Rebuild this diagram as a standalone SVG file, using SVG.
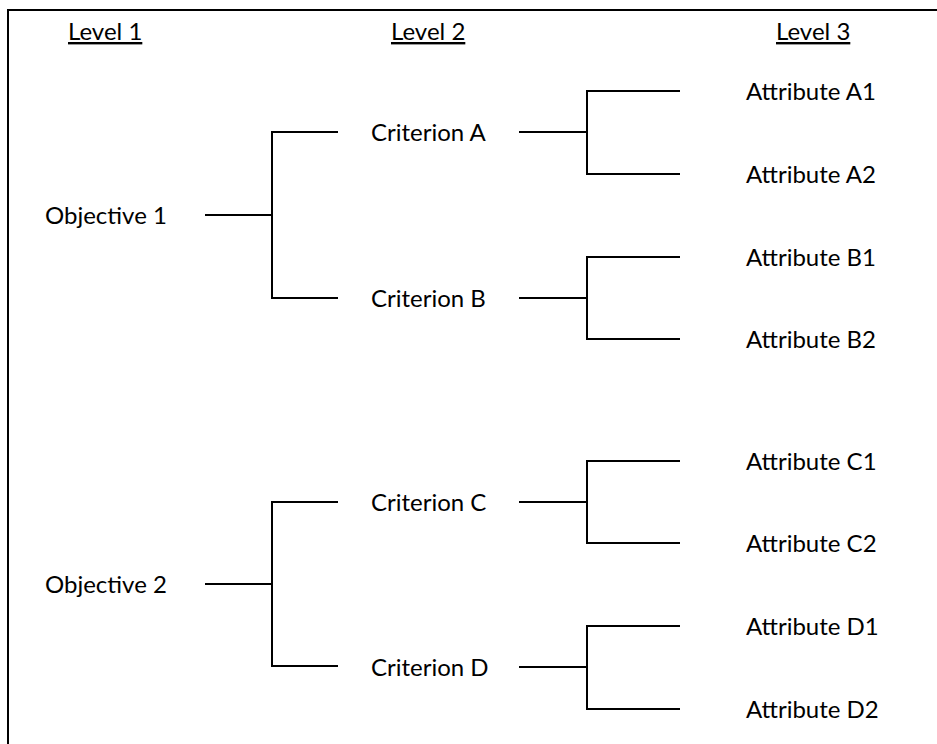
<svg xmlns="http://www.w3.org/2000/svg" width="937" height="744" viewBox="0 0 937 744">
  <style>
    text { font-family: Lato, "Open Sans", "Liberation Sans", sans-serif; font-size: 24px; fill: #000; }
    .head { text-decoration: underline; }
    .ln { fill: none; stroke: #000; stroke-width: 2; }
  </style>
  <rect width="937" height="744" fill="#fff"/>
  <!-- frame: left and top edges -->
  <path class="ln" d="M8,744 V10 H937"/>

  <!-- level headings -->
  <g id="headings">
    <text class="head" x="68" y="40">Level 1</text>
    <text class="head" x="391" y="40">Level 2</text>
    <text class="head" x="776" y="40">Level 3</text>
  </g>

  <!-- level 1 -->
  <g id="objective-1"><text x="45" y="224">Objective 1</text></g>
  <g id="objective-2"><text x="45" y="593">Objective 2</text></g>

  <!-- level 2 -->
  <g id="criterion-a"><text x="371" y="141">Criterion A</text></g>
  <g id="criterion-b"><text x="371" y="307">Criterion B</text></g>
  <g id="criterion-c"><text x="371" y="511">Criterion C</text></g>
  <g id="criterion-d"><text x="371" y="676">Criterion D</text></g>

  <!-- level 3 -->
  <g id="attribute-a1"><text x="746" y="100">Attribute A1</text></g>
  <g id="attribute-a2"><text x="746" y="183">Attribute A2</text></g>
  <g id="attribute-b1"><text x="746" y="266">Attribute B1</text></g>
  <g id="attribute-b2"><text x="746" y="348">Attribute B2</text></g>
  <g id="attribute-c1"><text x="746" y="470">Attribute C1</text></g>
  <g id="attribute-c2"><text x="746" y="552">Attribute C2</text></g>
  <g id="attribute-d1"><text x="746" y="635">Attribute D1</text></g>
  <g id="attribute-d2"><text x="746" y="718">Attribute D2</text></g>

  <!-- connectors -->
  <g id="connectors" class="ln">
    <!-- objective 1 to criteria A/B -->
    <path d="M205,215 H272 M338,132 H272 V298 H338"/>
    <!-- criterion A to attributes A1/A2 -->
    <path d="M519,132 H587 M680,91 H587 V174 H680"/>
    <!-- criterion B to attributes B1/B2 -->
    <path d="M519,298 H587 M680,257 H587 V339 H680"/>
    <!-- objective 2 to criteria C/D -->
    <path d="M205,584 H272 M338,502 H272 V666 H338"/>
    <!-- criterion C to attributes C1/C2 -->
    <path d="M519,502 H587 M680,461 H587 V543 H680"/>
    <!-- criterion D to attributes D1/D2 -->
    <path d="M519,667 H587 M680,626 H587 V709 H680"/>
  </g>
</svg>
